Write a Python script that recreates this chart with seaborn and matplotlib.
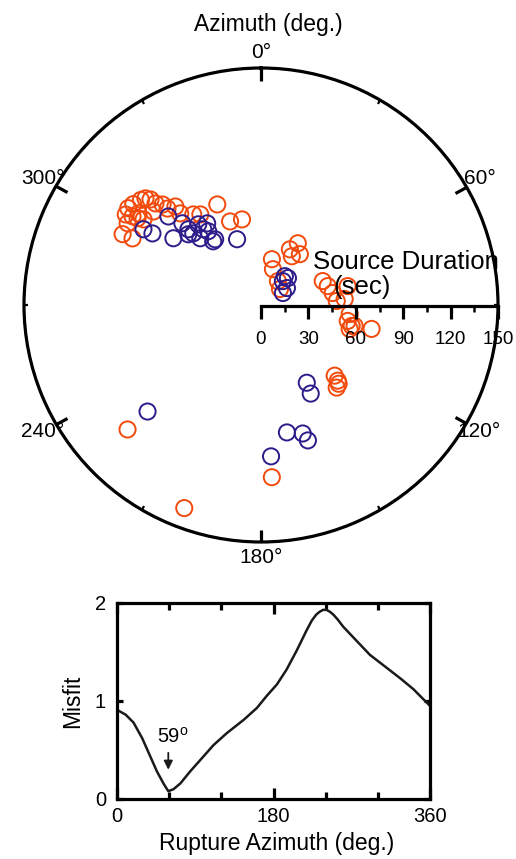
import numpy as np
import pandas as pd
import matplotlib
matplotlib.use("Agg")
import matplotlib.pyplot as plt
import seaborn as sns

# station azimuth (deg, clockwise from N) and source duration (sec)
orange_az = [303.8, 306.1, 308.3, 311.2, 312.7, 313.7, 313.9, 315.6, 315.9, 319.0,
             304.6, 306.8, 306.1, 311.0, 297.1, 297.4, 323.2, 326.2, 336.5, 339.7,
             347.5, 301.5, 305.1, 318.6,
             13.4, 27.4, 30.8, 37.4, 32.3, 18.4, 35.3, 49.9,
             68.8, 74.2, 77.7, 80.5, 87.0, 85.9, 95.8, 100.4, 103.0, 102.6, 105.1, 102.2,
             133.8, 134.6, 135.4, 137.5, 176.4, 227.0, 200.7]
orange_dur = [103, 104, 103, 101, 99.5, 96.7, 92.7, 89, 85, 82.6,
              98.8, 96.8, 92, 90.2, 98.4, 91.6, 71.6, 69, 69.4, 56.4,
              55.5, 99, 95.5, 77.3,
              29.8, 39.7, 45.5, 40.5, 36.5, 23.9, 18.5, 15.7,
              41.9, 43.9, 56.1, 46, 48, 53.1, 56.4, 55.8, 58.9, 60.7, 58.1, 71.6,
              64.6, 68.2, 70, 70.9, 109.2, 115.5, 137.4]

blue_az = [302.8, 303.4, 313.7, 307.3, 316.1, 316.2, 316.6, 322.1, 317.7, 326.6,
           324.4, 323.1, 325.1, 340.0, 314.2, 322.7,
           39.6, 45.0, 42.5, 61.4, 56.8,
           149.5, 150.7, 168.5, 162.0, 160.9, 176.2, 226.8]
blue_dur = [88.5, 82.3, 81.1, 69.7, 71.8, 66.4, 62.4, 64.7, 57.1, 61.9,
            57.4, 50.4, 50.7, 44.3, 64.2, 60.3,
            23.7, 24.1, 20.5, 15.8, 19.6,
            57.1, 64.3, 82.3, 85.5, 90.7, 96.0, 98.5]

# misfit as a function of trial rupture azimuth
rupture_az = [0, 10, 19, 29, 38, 46, 54, 59, 65, 73, 84, 96, 111, 126, 146, 161,
              172, 184, 195, 207, 218, 224, 229, 233, 237, 241, 245, 249, 254, 260,
              276, 291, 310, 326, 341, 360]
misfit = [0.91, 0.86, 0.78, 0.62, 0.44, 0.28, 0.15, 0.08, 0.10, 0.16, 0.28, 0.40,
          0.55, 0.67, 0.81, 0.93, 1.05, 1.17, 1.32, 1.52, 1.72, 1.82, 1.88, 1.91,
          1.93, 1.93, 1.91, 1.88, 1.83, 1.76, 1.61, 1.47, 1.34, 1.23, 1.12, 0.95]

theta_major = [0, 60, 120, 180, 240, 300]
theta_minor = [30, 90, 150, 210, 270, 330]
dur_ticks = [0, 30, 60, 90, 120, 150]

ORANGE = "#F24A0C"
BLUE = "#2E1C8A"

sns.set_theme(style="ticks")
plt.rcParams["font.family"] = ["Liberation Sans", "DejaVu Sans"]
plt.rcParams["mathtext.fontset"] = "custom"
plt.rcParams["mathtext.rm"] = "Liberation Sans"
for k in ["text.color", "axes.labelcolor", "xtick.color", "ytick.color", "axes.edgecolor"]:
    plt.rcParams[k] = "black"

W, H = 516, 859
fig = plt.figure(figsize=(W / 100, H / 100), dpi=100)

# ---- polar panel
cx, cy, rad = 261, 554, 237
ax = fig.add_axes([(cx - rad) / W, (cy - rad) / H, 2 * rad / W, 2 * rad / H],
                  projection="polar")
ax.set_theta_zero_location("N")
ax.set_theta_direction(-1)

for az, dur, col in [(orange_az, orange_dur, ORANGE), (blue_az, blue_dur, BLUE)]:
    df = pd.DataFrame({"theta": np.deg2rad(az), "dur": dur})
    sns.scatterplot(data=df, x="theta", y="dur", ax=ax, s=135, color=col,
                    facecolor="none", edgecolor=col, linewidth=1.4, legend=False)

ax.set_rlim(0, 150)
ax.set_yticks([])
ax.grid(False)
ax.set_xlabel("")
ax.set_ylabel("")
ax.spines["polar"].set_linewidth(2.3)
ax.set_xticks(np.deg2rad(theta_major))
ax.set_xticklabels([f"{t}°" for t in theta_major], fontsize=15)
ax.set_xticks(np.deg2rad(theta_minor), minor=True)
ax.tick_params(axis="x", which="both", top=True, bottom=False)
ax.tick_params(axis="x", which="major", direction="in", length=9, width=2.3, pad=4)
ax.tick_params(axis="x", which="minor", direction="in", length=3, width=1.6)

fig.text(268 / W, 1 - 25 / H, "Azimuth (deg.)", fontsize=16.5, ha="center", va="center")

# radial duration scale along the 90 deg direction
rax = fig.add_axes([cx / W, (cy - 0.5) / H, rad / W, 1 / H])
rax.patch.set_visible(False)
rax.set_xlim(0, 150)
rax.set_yticks([])
for s in ["top", "left", "right"]:
    rax.spines[s].set_visible(False)
rax.spines["bottom"].set_linewidth(2.3)
rax.set_xticks(dur_ticks)
rax.set_xticks([15, 45, 75, 105, 135], minor=True)
rax.tick_params(axis="x", which="major", direction="out", length=9, width=2.3,
                labelsize=13.5, pad=9)
rax.tick_params(axis="x", which="minor", direction="out", length=4, width=1.8)
fig.text(406 / W, 1 - 262 / H, "Source Duration", fontsize=18.5, ha="center", va="center")
fig.text(362 / W, 1 - 287 / H, "(sec)", fontsize=18.5, ha="center", va="center")

# ---- misfit panel
bx = fig.add_axes([117 / W, 60 / H, 313 / W, 196 / H])
sns.lineplot(x=rupture_az, y=misfit, ax=bx, color="#1a1a1a", linewidth=1.8)
bx.set_xlim(0, 360)
bx.set_ylim(0, 2)
for s in bx.spines.values():
    s.set_linewidth(2.3)
bx.set_xticks([0, 180, 360])
bx.set_xticks([60, 120, 240, 300], minor=True)
bx.set_yticks([0, 1, 2])
bx.tick_params(axis="both", which="both", direction="in", top=True, right=True,
               width=2.3, labelsize=14.5)
bx.tick_params(axis="x", which="major", length=8, pad=6)
bx.tick_params(axis="x", which="minor", length=5)
bx.tick_params(axis="y", which="major", length=4, pad=8)
bx.set_xlabel("Rupture Azimuth (deg.)", fontsize=16.5)
bx.set_ylabel("Misfit", fontsize=16.5)
bx.xaxis.set_label_coords(0.51, -0.17)
bx.yaxis.set_label_coords(-0.105, 0.5)
bx.annotate("", xy=(59, 0.27), xytext=(59, 0.5),
            arrowprops=dict(arrowstyle="-|>", color="#1a1a1a", lw=1.3,
                            mutation_scale=13))
bx.text(64, 0.64, "59$^{\\mathrm{o}}$", fontsize=14.5, ha="center", va="center")

fig.savefig("out.png", dpi=100)
